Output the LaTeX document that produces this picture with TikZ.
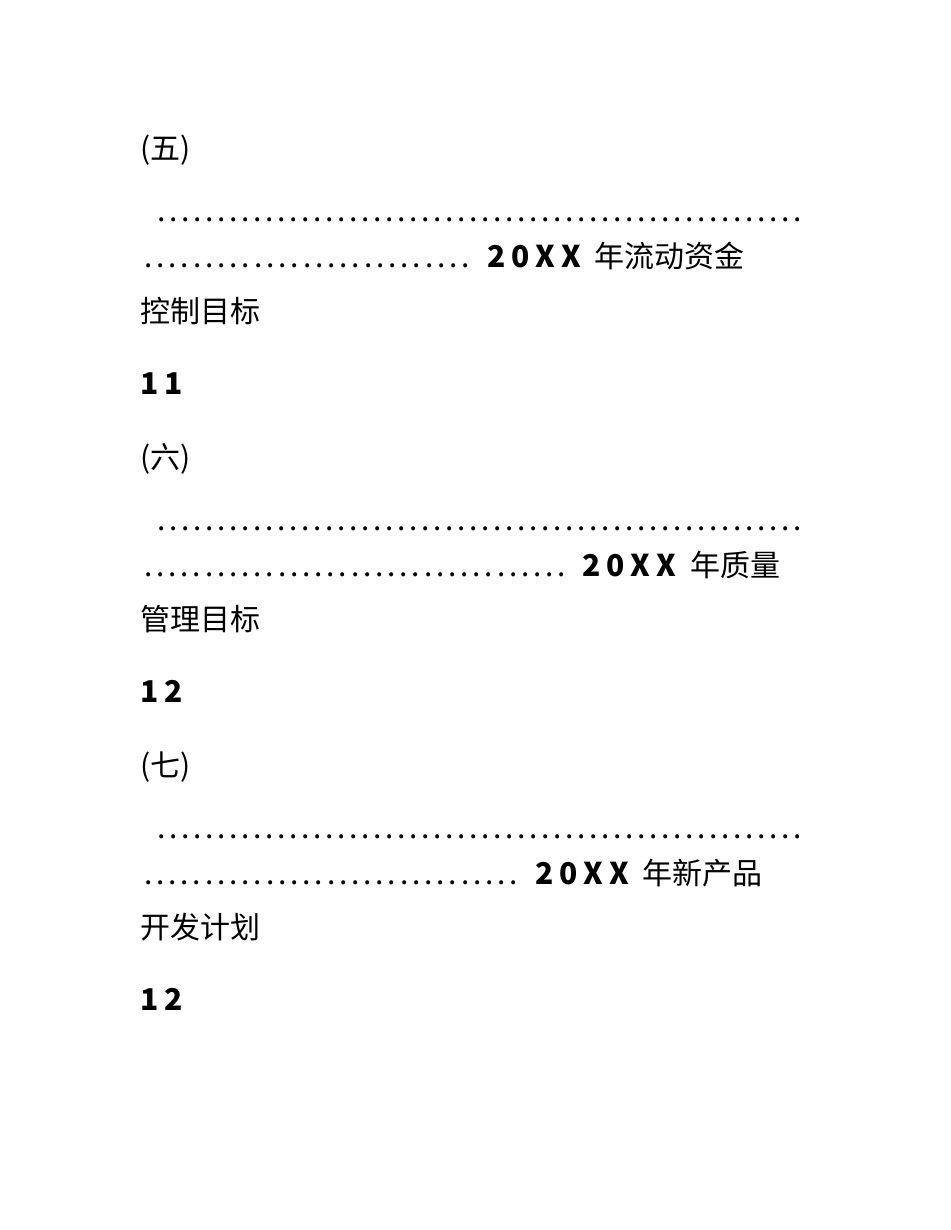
\documentclass[tikz,border=0pt]{standalone}
\usepackage{fontspec}
\setmainfont{Noto Sans CJK SC}
\usetikzlibrary{positioning}
\newcommand{\dotrow}[1]{\hbox to #1{\xleaders\hbox to 12pt{\hss.\hss}\hfill}}
\tikzset{
  line/.style={anchor=base west, inner sep=0pt, font=\fontsize{30}{36}\selectfont},
  num/.style={line, font=\fontsize{30}{36}\selectfont\bfseries\addfontfeature{LetterSpace=20}}
}
\begin{document}
\begin{tikzpicture}[x=1pt, y=-1pt]
  \useasboundingbox (0,0) rectangle (950,1230);

  % (五)
  \node[line] (h5) at (140,160) {(五)};
  \node[line] (d5a) at (155,222) {\dotrow{648pt}};
  \node[line] (d5b) at (142,268) {\dotrow{330pt}};
  \node[num] (y5) at (487,268) {20XX};
  \node[line] (t5) at (594,268) {年流动资金};
  \node[line] (u5) at (140,322) {控制目标};
  \node[num] (p5) at (140,394) {11};

  % (六)
  \node[line] (h6) at (140,468) {(六)};
  \node[line] (d6a) at (155,530) {\dotrow{648pt}};
  \node[line] (d6b) at (142,576) {\dotrow{426pt}};
  \node[num] (y6) at (582,576) {20XX};
  \node[line] (t6) at (690,576) {年质量};
  \node[line] (u6) at (140,630) {管理目标};
  \node[num] (p6) at (140,702) {12};

  % (七)
  \node[line] (h7) at (140,776) {(七)};
  \node[line] (d7a) at (155,838) {\dotrow{648pt}};
  \node[line] (d7b) at (142,884) {\dotrow{378pt}};
  \node[num] (y7) at (535,884) {20XX};
  \node[line] (t7) at (642,884) {年新产品};
  \node[line] (u7) at (140,938) {开发计划};
  \node[num] (p7) at (140,1010) {12};
\end{tikzpicture}
\end{document}
